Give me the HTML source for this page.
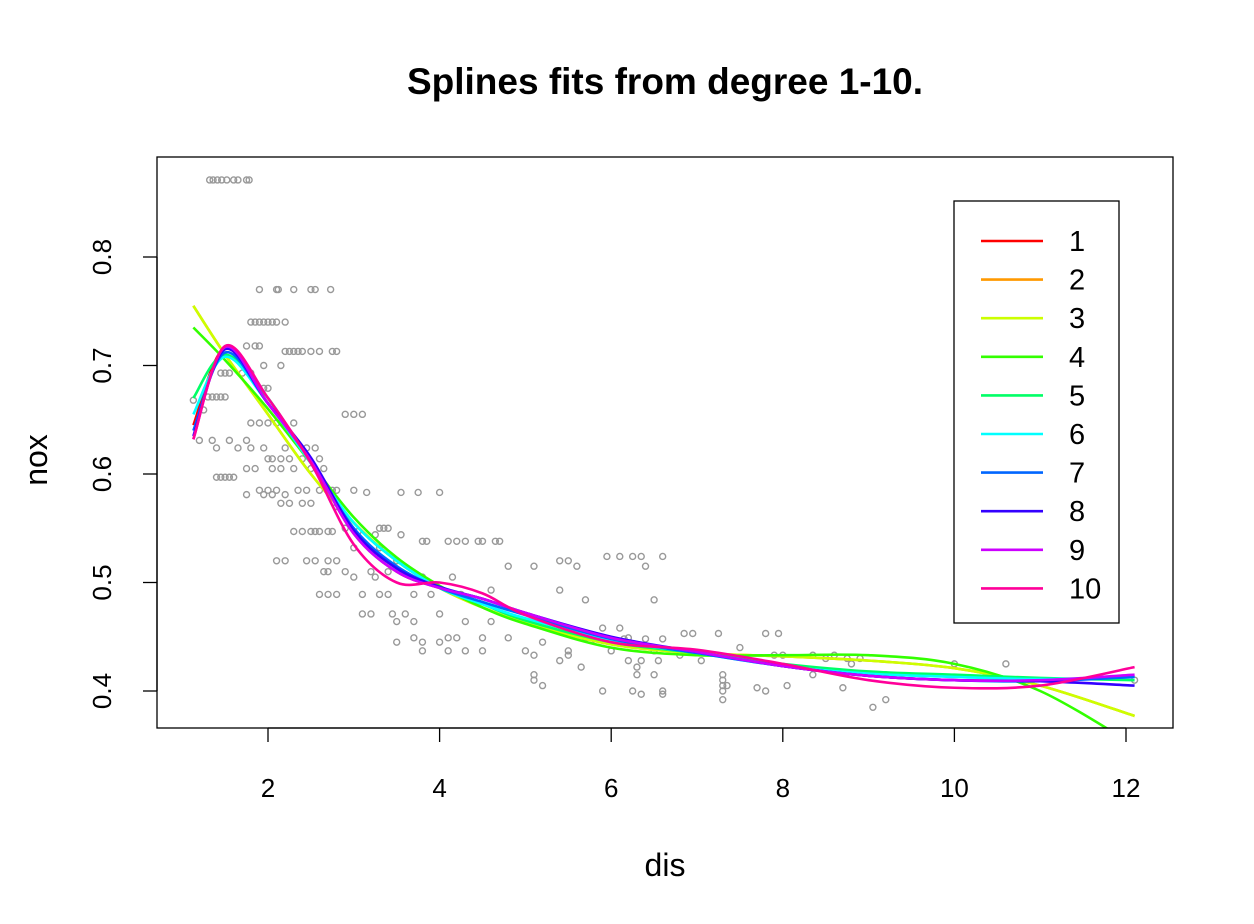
<!DOCTYPE html>
<html><head><meta charset="utf-8">
<style>
html,body{margin:0;padding:0;background:#fff;}
svg{display:block;font-family:"Liberation Sans",Arial,sans-serif;}
</style></head>
<body>
<svg id="chart" width="1254" height="924" viewBox="0 0 1254 924">
  <defs><clipPath id="pc"><rect x="157" y="157" width="1016" height="571"/></clipPath></defs>
  <text x="665" y="94" text-anchor="middle" font-size="37" font-weight="bold">Splines fits from degree 1-10.</text>
  <text x="665" y="876" text-anchor="middle" font-size="32">dis</text>
  <text transform="translate(47,460) rotate(-90)" text-anchor="middle" font-size="32">nox</text>
  <g id="points" clip-path="url(#pc)"></g>
  <g id="curves" clip-path="url(#pc)"></g>
  <g id="axes"></g>
  <rect x="157" y="157" width="1016" height="571" fill="none" stroke="#000" stroke-width="1.3"/>
  <g id="legend"></g>
</svg>
<script>
const xTicks = [2,4,6,8,10,12];
const yTicks = [0.4,0.5,0.6,0.7,0.8];
const degrees = ["1","2","3","4","5","6","7","8","9","10"];
const colors = ["#FF0000","#FF9900","#CCFF00","#33FF00","#00FF66","#00FFFF","#0066FF","#3300FF","#CC00FF","#FF0099"];
const gridX = [1.13,1.5,2,2.5,3,3.5,4,4.5,5,6,7,8,9,10,11,12.1];
const fit1 = [0.645,0.716,0.665,0.612,0.545,0.51,0.495,0.485,0.472,0.449,0.436,0.423,0.414,0.41,0.41,0.414];
const fit2 = [0.755,0.71,0.655,0.6,0.555,0.52,0.495,0.477,0.463,0.443,0.435,0.432,0.428,0.421,0.405,0.377];
const fit3 = [0.755,0.71,0.655,0.6,0.555,0.52,0.495,0.477,0.463,0.443,0.435,0.432,0.428,0.421,0.405,0.377];
const fit4 = [0.735,0.705,0.66,0.61,0.56,0.523,0.497,0.477,0.462,0.44,0.433,0.433,0.433,0.425,0.4,0.35];
const fit5 = [0.67,0.71,0.67,0.61,0.555,0.52,0.495,0.48,0.465,0.445,0.435,0.425,0.418,0.415,0.412,0.41];
const fit6 = [0.655,0.708,0.665,0.61,0.555,0.52,0.495,0.48,0.467,0.447,0.435,0.423,0.416,0.413,0.411,0.413];
const fit7 = [0.64,0.712,0.665,0.612,0.55,0.515,0.495,0.482,0.47,0.448,0.435,0.423,0.414,0.41,0.409,0.413];
const fit8 = [0.635,0.715,0.665,0.615,0.548,0.513,0.496,0.485,0.472,0.45,0.436,0.423,0.414,0.41,0.409,0.405];
const fit9 = [0.632,0.717,0.665,0.612,0.545,0.51,0.495,0.485,0.472,0.449,0.436,0.423,0.414,0.41,0.41,0.415];
const fit10 = [0.632,0.718,0.67,0.61,0.535,0.5,0.5,0.49,0.47,0.445,0.438,0.425,0.41,0.403,0.405,0.422];
const fits = [fit1,fit2,fit3,fit4,fit5,fit6,fit7,fit8,fit9,fit10];
const pointGroups = [
 [0.871,[1.32,1.36,1.41,1.46,1.52,1.6,1.65,1.75,1.78]],
 [0.77,[1.9,2.1,2.12,2.3,2.5,2.55,2.73]],
 [0.74,[1.8,1.85,1.9,1.95,2.0,2.05,2.1,2.2]],
 [0.718,[1.75,1.85,1.9]],
 [0.713,[2.2,2.25,2.3,2.35,2.4,2.5,2.6,2.75,2.8]],
 [0.7,[1.95,2.15]],
 [0.693,[1.45,1.5,1.55,1.7,1.8]],
 [0.679,[1.95,2.0]],
 [0.671,[1.3,1.35,1.4,1.45,1.5]],
 [0.668,[1.13]],
 [0.659,[1.25]],
 [0.655,[2.9,3.0,3.1]],
 [0.647,[1.8,1.9,2.0,2.1,2.3]],
 [0.631,[1.2,1.35,1.55,1.75]],
 [0.624,[1.4,1.65,1.8,1.95,2.2,2.45,2.55]],
 [0.614,[2.0,2.05,2.15,2.25,2.4,2.6]],
 [0.605,[1.75,1.85,2.05,2.15,2.3,2.5,2.65]],
 [0.597,[1.4,1.45,1.5,1.55,1.6]],
 [0.585,[1.9,2.0,2.1,2.35,2.45,2.6,2.75,2.8,3.0]],
 [0.583,[3.15,3.55,3.75,4.0]],
 [0.581,[1.75,1.95,2.05,2.2]],
 [0.573,[2.15,2.25,2.4,2.5]],
 [0.57,[2.8]],
 [0.55,[3.3,3.35,3.4,2.9]],
 [0.547,[2.3,2.4,2.5,2.55,2.6,2.7,2.75,3.05]],
 [0.544,[3.25,3.55]],
 [0.538,[3.8,3.85,4.1,4.2,4.3,4.45,4.5,4.65,4.7]],
 [0.532,[3.0,3.3]],
 [0.52,[2.1,2.2,2.45,2.55,2.7,2.8,3.5,5.4,5.5]],
 [0.515,[4.8,5.1,5.6,6.4]],
 [0.524,[5.95,6.1,6.25,6.35,6.6]],
 [0.51,[2.65,2.7,2.9,3.2,3.4]],
 [0.505,[3.25,3.0,3.8,4.15]],
 [0.493,[5.4,4.6]],
 [0.489,[2.6,2.7,2.8,3.1,3.3,3.4,3.7,3.9,4.25]],
 [0.484,[5.7,6.5]],
 [0.471,[3.1,3.2,3.45,3.6,4.0]],
 [0.464,[3.5,3.7,4.6,4.3]],
 [0.458,[5.5,5.9,6.1]],
 [0.449,[3.7,4.1,4.2,4.5,4.8,5.7,6.2]],
 [0.445,[3.5,3.8,4.0,5.2]],
 [0.437,[3.8,4.1,4.3,4.5,5.0,5.5,6.0,6.5]],
 [0.44,[7.5]],
 [0.453,[6.85,6.95,7.25,7.8,7.95]],
 [0.448,[5.8,6.15,6.4,6.6]],
 [0.428,[5.4,6.2,6.35,7.05,6.55]],
 [0.433,[5.1,5.5,6.8,7.9,8.0,8.35,8.6]],
 [0.422,[5.65,6.3]],
 [0.415,[5.1,6.3,6.5,7.3,8.35,9.2]],
 [0.41,[5.1,7.3,12.1]],
 [0.405,[5.2,7.3,7.35,8.05]],
 [0.4,[5.9,6.25,6.6,7.3,7.8]],
 [0.397,[6.35,6.6]],
 [0.392,[7.3,9.2]],
 [0.385,[9.05]],
 [0.403,[7.7,8.7]],
 [0.425,[8.8,10.0,10.6]],
 [0.43,[8.5,8.75,8.9]]
];
const NS="http://www.w3.org/2000/svg";
function sx(v){return 268+(v-2)*85.8;}
function sy(v){return 691-(v-0.4)*1085;}
function mk(tag,attrs,parent){const e=document.createElementNS(NS,tag);for(const k in attrs)e.setAttribute(k,attrs[k]);parent.appendChild(e);return e;}
const gp=document.getElementById('points');
pointGroups.forEach(g=>{g[1].forEach(x=>{
  const c=mk('circle',{cx:sx(x),cy:sy(g[0]),r:3,fill:'none',stroke:'#999',"stroke-width":1.4},gp);
  
  
});});
function pathFor(ys){
  const p=gridX.map((x,i)=>[sx(x),sy(ys[i])]);
  let d='M'+p[0][0]+','+p[0][1];
  for(let i=0;i<p.length-1;i++){
    const p0=p[i-1]||p[i],p1=p[i],p2=p[i+1],p3=p[i+2]||p[i+1];
    const c1=[p1[0]+(p2[0]-p0[0])/6,p1[1]+(p2[1]-p0[1])/6];
    const c2=[p2[0]-(p3[0]-p1[0])/6,p2[1]-(p3[1]-p1[1])/6];
    d+=` C${c1[0]},${c1[1]} ${c2[0]},${c2[1]} ${p2[0]},${p2[1]}`;
  }
  return d;
}
const gc=document.getElementById('curves');
fits.forEach((f,i)=>{
  const l=mk('path',{d:pathFor(f),fill:'none',stroke:colors[i],"stroke-width":2.6},gc);
  
  
});
const ga=document.getElementById('axes');
mk('line',{x1:sx(xTicks[0]),x2:sx(xTicks[xTicks.length-1]),y1:728,y2:728,stroke:'#000',"stroke-width":1.3},ga);
xTicks.forEach(t=>{
  mk('line',{x1:sx(t),x2:sx(t),y1:728,y2:742,stroke:'#000',"stroke-width":1.3},ga);
  const tx=mk('text',{x:sx(t),y:797,"text-anchor":"middle","font-size":26},ga);
  tx.textContent=t;
  
  
});
mk('line',{x1:157,x2:157,y1:sy(yTicks[0]),y2:sy(yTicks[yTicks.length-1]),stroke:'#000',"stroke-width":1.3},ga);
yTicks.forEach(t=>{
  mk('line',{x1:143,x2:157,y1:sy(t),y2:sy(t),stroke:'#000',"stroke-width":1.3},ga);
  const tx=mk('text',{transform:`translate(111,${sy(t)}) rotate(-90)`,"text-anchor":"middle","font-size":26},ga);
  tx.textContent=t.toFixed(1);
  
  
});
const gl=document.getElementById('legend');
mk('rect',{x:954,y:201,width:165,height:422,fill:'#fff',stroke:'#000',"stroke-width":1.3},gl);
degrees.forEach((d,i)=>{
  const y=241+i*38.6;
  const ln=mk('line',{x1:981,x2:1043,y1:y,y2:y,stroke:colors[i],"stroke-width":2.6},gl);
  
  
  const tx=mk('text',{x:1069,y:y+10,"font-size":29},gl);
  tx.textContent=d;
  
  
});
</script>
</body></html>
